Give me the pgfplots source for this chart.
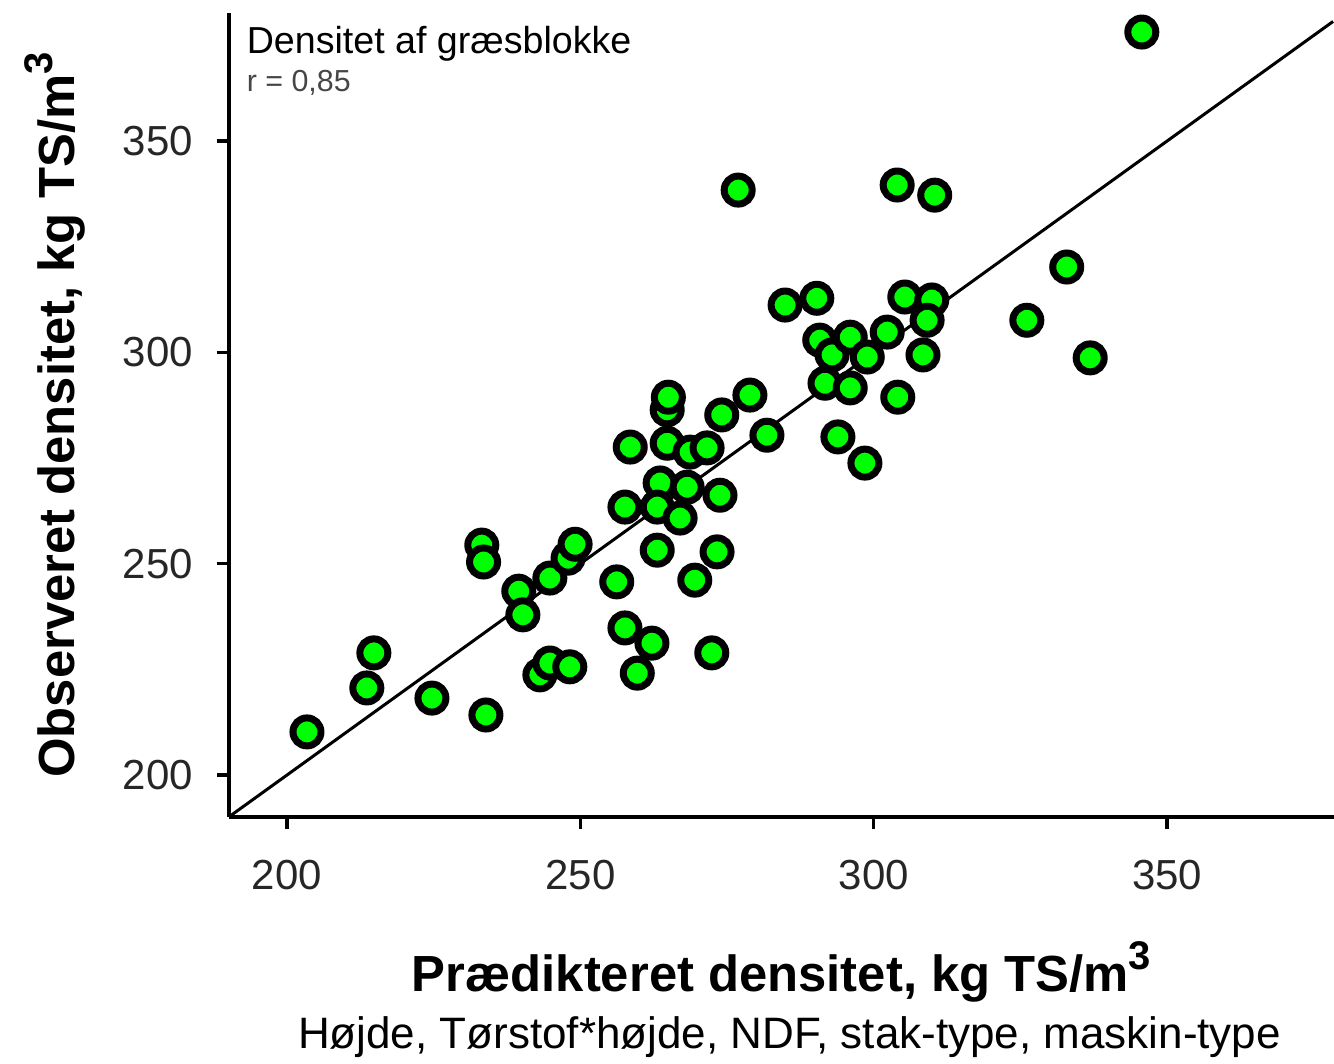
\documentclass[border=0pt]{standalone}
\usepackage{pgfplots}
\pgfplotsset{compat=1.18}
\usepackage{fontspec}
\setmainfont{Liberation Sans}
\definecolor{mkgreen}{RGB}{0,255,0}
\definecolor{rgray}{RGB}{70,70,70}
\begin{document}
\begin{tikzpicture}
\begin{axis}[
  name=ax,
  scale only axis,
  width=276.25pt, height=201pt,
  xmin=190.11, xmax=378.46,
  ymin=190.06, ymax=380.3,
  axis x line=bottom, axis y line=left,
  axis line style={-, line width=0.9pt, black},
  xtick={200,250,300,350}, ytick={200,250,300,350},
  minor tick num=0,
  tick align=outside,
  major tick length=3pt,
  tick style={line width=0.8pt, black},
  /pgf/number format/assume math mode=true,
  tick label style={font=\fontsize{10.5}{12}\selectfont, text=black!85},
  xticklabel style={yshift=-4.25pt},
  yticklabel style={xshift=-2.5pt},
  clip=false,
]
\addplot[black, line width=0.75pt, no markers] coordinates {(190.11,190.11) (378.3,378.3)};
\addplot[only marks, mark=*, mark size=3.5pt, mark options={fill=mkgreen, draw=black, line width=1.75pt}] coordinates {
(203.4,210.2) (213.6,220.6) (214.8,228.9) (224.7,218.2) (233.9,214.2)
(233.2,254.4) (233.5,250.4) (239.5,243.5) (240.2,237.9) (244.8,246.6)
(243.1,223.7) (244.8,226.5) (248.2,225.6) (247.9,251.3) (249.1,254.6)
(256.2,245.7) (257.6,234.8) (259.7,224.1) (262.2,231.2) (257.6,263.4)
(258.5,277.6) (263.1,253.2) (263.6,269.1) (263.1,263.4) (267.0,260.8)
(268.2,268.1) (264.8,278.5) (264.8,286.4) (265.0,289.4) (268.7,276.4)
(271.6,277.4) (269.5,246.1) (272.4,228.9) (273.3,252.8) (273.8,266.2)
(274.1,285.2) (278.9,289.9) (281.8,280.4) (276.9,338.4) (284.9,311.2)
(290.3,312.8) (290.8,302.9) (292.9,299.4) (296.0,303.6) (291.7,292.7)
(296.0,291.6) (298.9,298.9) (293.9,280.0) (298.5,273.8) (302.3,304.8)
(304.1,289.4) (305.3,313.1) (309.9,312.4) (309.1,307.6) (308.4,299.4)
(304.0,339.6) (310.4,337.2) (326.1,307.6) (332.9,320.2) (336.9,298.7)
(345.7,375.8)
};
\node[anchor=north west, inner sep=0pt, font=\fontsize{9.4}{10}\selectfont] at ([xshift=4.25pt,yshift=-3pt]rel axis cs:0,1) {Densitet af græsblokke};
\node[anchor=north west, inner sep=0pt, font=\fontsize{7.6}{9}\selectfont, text=rgray] at ([xshift=4.25pt,yshift=-14pt]rel axis cs:0,1) {r = 0,85};
\end{axis}
\node[font=\bfseries\fontsize{12.7}{14}\selectfont, rotate=90] at ([xshift=-43.5pt]ax.west) {Observeret densitet, kg TS/m\raisebox{0.8ex}{\fontsize{10}{10}\selectfont 3}};
\node[font=\bfseries\fontsize{12.7}{14}\selectfont] at ([yshift=-38.75pt]ax.south) {Prædikteret densitet, kg TS/m\raisebox{0.8ex}{\fontsize{10}{10}\selectfont 3}};
\node[font=\fontsize{11}{12}\selectfont] at ([xshift=2pt,yshift=-55pt]ax.south) {Højde, Tørstof*højde, NDF, stak-type, maskin-type};
\pgfresetboundingbox
\path[use as bounding box] ([xshift=-57.25pt,yshift=-61.5pt]ax.south west) rectangle ([yshift=3.25pt]ax.north east);
\end{tikzpicture}
\end{document}
